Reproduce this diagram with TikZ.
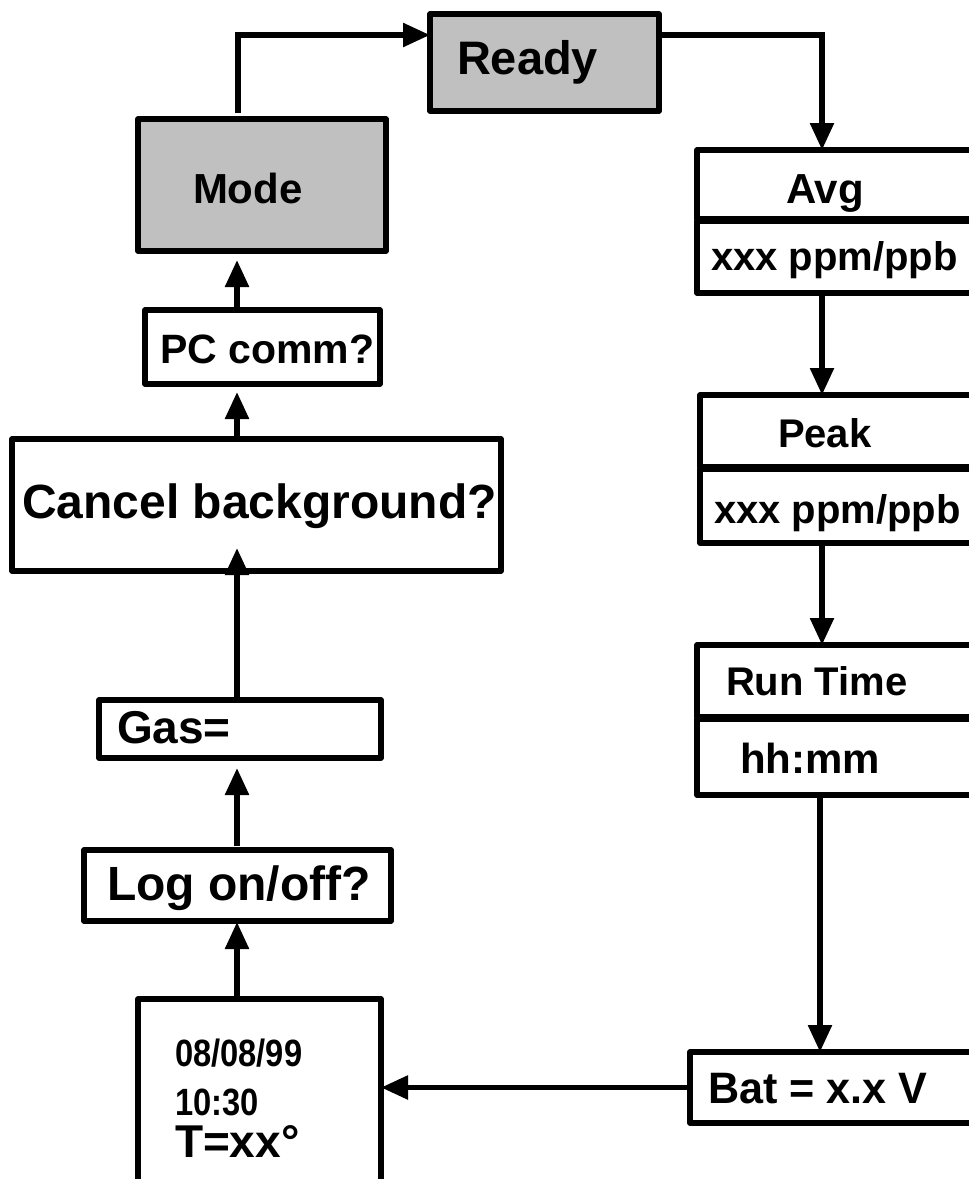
\documentclass[tikz,border=0pt]{standalone}
\usepackage{fontspec}
\setmainfont{Liberation Sans}
\usetikzlibrary{arrows.meta,calc}
\definecolor{boxgray}{HTML}{C0C0C0}
\newcommand{\fsz}[1]{\fontsize{#1}{#1}\selectfont}
\tikzset{
  box/.style={draw=black, line width=5.5pt, line join=round, inner sep=0pt, outer sep=0pt, anchor=north west, fill=white},
  graybox/.style={box, fill=boxgray},
  conn/.style={line width=5.5pt, -{Triangle[length=27pt,width=23pt]}},
  lbl/.style={inner sep=0pt, outer sep=0pt, anchor=base west},
}
\begin{document}
\begin{tikzpicture}[x=1pt,y=-1pt]
\useasboundingbox (0,0) rectangle (969,1179);
\clip (0,0) rectangle (969,1179);
% boxes
\node[graybox, minimum width=229pt, minimum height=97pt] (ready) at (430,14) {};
\node[graybox, minimum width=248pt, minimum height=132pt] (mode) at (138,119) {};
\node[box, minimum width=235pt, minimum height=74pt] (pc) at (145,310) {};
\node[box, minimum width=489pt, minimum height=132pt] (cancel) at (12,439) {};
\node[box, minimum width=282pt, minimum height=58pt] (gas) at (99,700) {};
\node[box, minimum width=307pt, minimum height=71pt] (log) at (84,850) {};
\node[box, minimum width=243pt, minimum height=220pt] (date) at (138,999) {};
\node[box, minimum width=300pt, minimum height=69pt] (avgtop) at (697,150) {};
\node[box, minimum width=300pt, minimum height=72pt] (avgbot) at (697,221) {};
\node[box, minimum width=300pt, minimum height=72pt] (peaktop) at (700,395) {};
\node[box, minimum width=300pt, minimum height=74pt] (peakbot) at (700,469) {};
\node[box, minimum width=300pt, minimum height=72pt] (runtop) at (697,645) {};
\node[box, minimum width=300pt, minimum height=76pt] (runbot) at (697,719) {};
\node[box, minimum width=300pt, minimum height=71pt] (bat) at (690,1052) {};
% labels
\node[lbl, font={\fsz{47}\bfseries}] (tready) at (457,74) {Ready};
\node[lbl, font={\fsz{42}\bfseries}] (tmode) at (193,203) {Mode};
\node[lbl, font={\fsz{41}\bfseries}] (tpc) at (160,363) {PC comm?};
\node[lbl, font={\fsz{48}\bfseries}] (tcancel) at (22,518) {Cancel background?};
\node[lbl, font={\fsz{46}\bfseries}] (tgas) at (117,743) {Gas=};
\node[lbl, font={\fsz{48}\bfseries}] (tlog) at (107,900) {Log on/off?};
\node[lbl, font={\fsz{42}\bfseries}] (tavg) at (786,203) {Avg};
\node[lbl, font={\fsz{40}\bfseries}] (tavgv) at (711,270) {xxx ppm/ppb};
\node[lbl, font={\fsz{40}\bfseries}] (tpeak) at (778,447) {Peak};
\node[lbl, font={\fsz{40}\bfseries}] (tpeakv) at (714,523) {xxx ppm/ppb};
\node[lbl, font={\fsz{40}\bfseries}] (trun) at (726,695) {Run Time};
\node[lbl, font={\fsz{42}\bfseries}] (trunv) at (740,773) {hh:mm};
\node[lbl, font={\fsz{44}\bfseries}] (tbat) at (708,1103) {\scalebox{0.98}[1]{Bat = x.x V}};
\node[lbl, font={\fsz{38}\bfseries}] (td1) at (175,1066) {\scalebox{0.86}[1]{08/08/99}};
\node[lbl, font={\fsz{38}\bfseries}] (td2) at (175,1115) {\scalebox{0.86}[1]{10:30}};
\node[lbl, font={\fsz{46}\bfseries}] (td3) at (175,1157) {T=xx°};
% column coordinates
\coordinate (lc) at (237,0);
\coordinate (rc) at (822,0);
\coordinate (rc2) at (820,0);
% connectors
\draw[conn, shorten <=6pt] ([xshift=100pt]mode.north west) |- ([yshift=-21pt]ready.north west);
\draw[conn] ([yshift=-21pt]ready.north east) -| (avgtop.north -| rc);
\draw[conn] (avgbot.south -| rc) -- (peaktop.north -| rc);
\draw[conn] (peakbot.south -| rc) -- (runtop.north -| rc);
\draw[conn] (runbot.south -| rc2) -- (bat.north -| rc2);
\draw[conn] (bat.west) -- (date.east |- bat.west);
\draw[conn, shorten >=1pt] (date.north -| lc) -- (log.south -| lc);
\draw[conn, shorten >=10pt, shorten <=4pt] (log.north -| lc) -- (gas.south -| lc);
\draw[conn] ([yshift=-3pt]gas.north -| lc) -- ([yshift=23pt]cancel.south -| lc);
\draw[conn, shorten >=8pt] (cancel.north -| lc) -- (pc.south -| lc);
\draw[conn, shorten >=9pt] (pc.north -| lc) -- (mode.south -| lc);
\end{tikzpicture}
\end{document}
